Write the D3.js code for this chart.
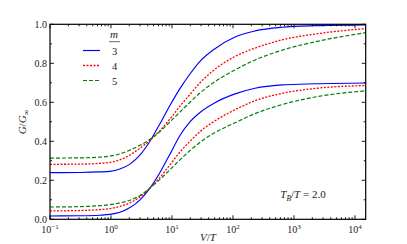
<!DOCTYPE html>
<html>
<head>
<meta charset="utf-8">
<script src="https://cdn.jsdelivr.net/npm/d3@7"></script>
<style>
    html, body { margin: 0; padding: 0; background: #fff; }
    svg { display: block; }
    text { font-family: "Liberation Serif", "DejaVu Serif", serif; fill: #222; }
</style>
</head>
<body>
<svg id="container" width="407" height="244"></svg>
<script>
// V/T sample points (log axis)
var voltage = [0.1, 0.31, 0.66, 0.96, 1.4, 2.05, 3, 4.35, 6.35, 9.3, 13.5, 19.7, 28.8, 50.7, 108, 230, 635, 2210, 15000];

// upper family of curves
var upperM3 = [0.239, 0.240, 0.243, 0.246, 0.258, 0.283, 0.330, 0.400, 0.490, 0.585, 0.670, 0.745, 0.810, 0.875, 0.935, 0.966, 0.985, 0.993, 0.997];
var upperM4 = [0.282, 0.283, 0.287, 0.292, 0.305, 0.330, 0.365, 0.405, 0.455, 0.515, 0.580, 0.640, 0.700, 0.770, 0.835, 0.878, 0.920, 0.950, 0.978];
var upperM5 = [0.314, 0.315, 0.319, 0.324, 0.335, 0.355, 0.380, 0.410, 0.450, 0.500, 0.550, 0.600, 0.648, 0.706, 0.766, 0.817, 0.867, 0.910, 0.957];

// lower family of curves
var lowerM3 = [0.017, 0.018, 0.021, 0.025, 0.036, 0.060, 0.100, 0.160, 0.240, 0.335, 0.430, 0.500, 0.548, 0.598, 0.643, 0.672, 0.689, 0.695, 0.699];
var lowerM4 = [0.043, 0.045, 0.050, 0.055, 0.066, 0.085, 0.115, 0.160, 0.215, 0.280, 0.345, 0.400, 0.450, 0.505, 0.562, 0.608, 0.646, 0.671, 0.686];
var lowerM5 = [0.063, 0.065, 0.070, 0.075, 0.084, 0.098, 0.122, 0.160, 0.205, 0.255, 0.305, 0.352, 0.395, 0.445, 0.495, 0.542, 0.588, 0.627, 0.659];

var mValues = ['3', '4', '5'];
var yTicks = [0, 0.2, 0.4, 0.6, 0.8, 1.0];
var xTickExponents = [-1, 0, 1, 2, 3, 4];

var seriesStyles =
[
    { color: '#0000ff', dash: null, width: 1.15 },
    { color: '#ff0000', dash: '2,1.5', width: 1.3 },
    { color: '#007f00', dash: '4,2', width: 1.2 }
];

function drawChart()
{
    const svg = d3.select('#container');
    const left = 50, top = 24.3, right = 365.7, bottom = 219.3;

    const x = d3.scaleLog().domain([0.1, 1.5e4]).range([left, right]);
    const y = d3.scaleLinear().domain([0, 1]).range([bottom, top]);

    // curves
    var families = [[upperM3, upperM4, upperM5], [lowerM3, lowerM4, lowerM5]];
    const line = d3.line()
        .x(d => x(d[0]))
        .y(d => y(d[1]))
        .curve(d3.curveMonotoneX);

    const curveGroup = svg.append('g').attr('fill', 'none');
    families.forEach(family => {
        family.forEach((values, i) => {
            curveGroup.append('path')
                .attr('d', line(voltage.map((v, k) => [v, values[k]])))
                .attr('stroke', seriesStyles[i].color)
                .attr('stroke-width', seriesStyles[i].width)
                .attr('stroke-dasharray', seriesStyles[i].dash);
        });
    });

    // ticks (inward on all four sides)
    const tickGroup = svg.append('g').attr('stroke', '#000').attr('stroke-width', 0.9);
    var majorX = xTickExponents.map(e => Math.pow(10, e));
    var minorX = [];
    xTickExponents.forEach(e => {
        for (var k = 2; k <= 9; k ++)
        {
            var v = k * Math.pow(10, e);
            if (v <= 1.5e4) minorX.push(v);
        }
    });
    majorX.forEach(v => {
        tickGroup.append('line').attr('x1', x(v)).attr('x2', x(v)).attr('y1', bottom).attr('y2', bottom - 4);
        tickGroup.append('line').attr('x1', x(v)).attr('x2', x(v)).attr('y1', top).attr('y2', top + 4);
    });
    minorX.forEach(v => {
        tickGroup.append('line').attr('x1', x(v)).attr('x2', x(v)).attr('y1', bottom).attr('y2', bottom - 2);
        tickGroup.append('line').attr('x1', x(v)).attr('x2', x(v)).attr('y1', top).attr('y2', top + 2);
    });
    d3.range(0, 1.01, 0.1).forEach((v, i) => {
        var len = (i % 2 == 0) ? 4 : 2;
        tickGroup.append('line').attr('x1', left).attr('x2', left + len).attr('y1', y(v)).attr('y2', y(v));
        tickGroup.append('line').attr('x1', right).attr('x2', right - len).attr('y1', y(v)).attr('y2', y(v));
    });

    // frame
    svg.append('rect')
        .attr('x', left).attr('y', top)
        .attr('width', right - left).attr('height', bottom - top)
        .attr('fill', 'none').attr('stroke', '#000').attr('stroke-width', 1.2);

    // y tick labels
    svg.append('g').selectAll('text').data(yTicks).join('text')
        .attr('x', left - 3).attr('y', d => y(d) + 3.5)
        .attr('text-anchor', 'end').attr('font-size', 10)
        .text(d => d3.format('.1f')(d));

    // x tick labels with superscript exponents
    var xl = svg.append('g').selectAll('text').data(xTickExponents).join('text')
        .attr('x', d => x(Math.pow(10, d))).attr('y', bottom + 13.5)
        .attr('text-anchor', 'middle').attr('font-size', 10);
    xl.append('tspan').text('10');
    xl.append('tspan').attr('font-size', 7).attr('dy', -4)
        .text(d => d < 0 ? '\u2212' + (-d) : '' + d);

    // axis titles
    var xt = svg.append('text').attr('x', 208).attr('y', 241).attr('text-anchor', 'middle').attr('font-size', 11);
    xt.append('tspan').attr('font-style', 'italic').text('V');
    xt.append('tspan').text('/');
    xt.append('tspan').attr('font-style', 'italic').text('T');

    var yt = svg.append('text').attr('transform', 'translate(26,122) rotate(-90)')
        .attr('text-anchor', 'middle').attr('font-size', 11);
    yt.append('tspan').attr('font-style', 'italic').text('G');
    yt.append('tspan').text('/');
    yt.append('tspan').attr('font-style', 'italic').text('G');
    yt.append('tspan').attr('font-size', 8).attr('dy', 2.5).text('\u221e');

    // annotation
    var ann = svg.append('text').attr('x', 303).attr('y', 198).attr('text-anchor', 'middle').attr('font-size', 11);
    ann.append('tspan').attr('font-style', 'italic').text('T');
    ann.append('tspan').attr('font-style', 'italic').attr('font-size', 7.5).attr('dy', 2.5).text('B');
    ann.append('tspan').attr('dy', -2.5).text('/');
    ann.append('tspan').attr('font-style', 'italic').text('T');
    ann.append('tspan').text(' = 2.0');

    // legend
    const legend = svg.append('g');
    legend.append('text').attr('x', 114).attr('y', 38).attr('text-anchor', 'middle')
        .attr('font-size', 11).attr('font-style', 'italic').text('m');
    legend.append('line').attr('x1', 109).attr('x2', 120).attr('y1', 41.7).attr('y2', 41.7)
        .attr('stroke', '#444').attr('stroke-width', 0.8);
    mValues.forEach((m, i) => {
        var ly = 50.5 + i * 15;
        legend.append('line').attr('x1', 83).attr('x2', 100).attr('y1', ly).attr('y2', ly)
            .attr('stroke', seriesStyles[i].color).attr('stroke-width', seriesStyles[i].width)
            .attr('stroke-dasharray', seriesStyles[i].dash);
        legend.append('text').attr('x', 114.5).attr('y', ly + 4).attr('text-anchor', 'middle')
            .attr('font-size', 10.5).text(m);
    });
}

drawChart();
</script>
</body>
</html>
